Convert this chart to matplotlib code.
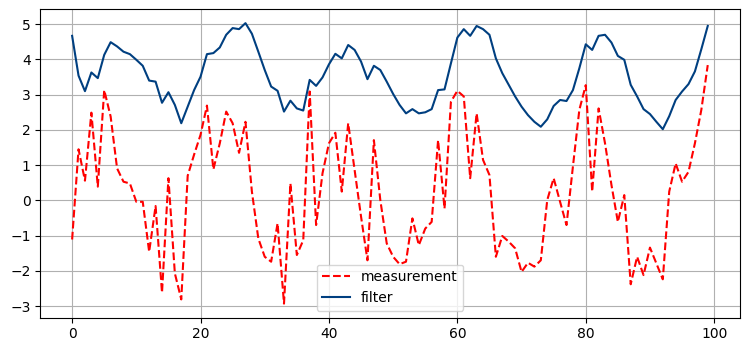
import matplotlib
matplotlib.use('Agg')
import matplotlib.pyplot as plt
import numpy as np

# values, index 0..99
measurement = [
    -1.11, 1.45, 0.56, 2.49, 0.39, 3.13, 2.38, 0.91, 0.53, 0.48,
    -0.04, -0.04, -1.46, -0.16, -2.62, 0.63, -2.07, -2.81, 0.70, 1.30,
    1.86, 2.69, 0.88, 1.62, 2.52, 2.19, 1.35, 2.23, 0.25, -1.08,
    -1.60, -1.74, -0.65, -2.93, 0.48, -1.55, -1.13, 3.09, -0.70, 0.77,
    1.62, 1.92, 0.25, 2.19, 0.86, -0.46, -1.70, 1.71, 0.01, -1.22,
    -1.60, -1.81, -1.74, -0.51, -1.27, -0.80, -0.61, 1.71, -0.23, 2.80,
    3.11, 2.95, 0.63, 2.47, 1.15, 0.72, -1.60, -1.01, -1.17, -1.36,
    -2.03, -1.77, -1.88, -1.70, 0.01, 0.63, -0.04, -0.70, 0.96, 2.57,
    3.27, 0.25, 2.61, 1.62, 0.44, -0.61, 0.15, -2.38, -1.60, -2.12,
    -1.34, -1.79, -2.24, 0.25, 1.05, 0.53, 0.81, 1.62, 2.57, 3.84,
]
filt = [
    4.67, 3.54, 3.10, 3.63, 3.47, 4.13, 4.49, 4.37, 4.22, 4.15,
    3.99, 3.82, 3.40, 3.37, 2.77, 3.07, 2.71, 2.19, 2.66, 3.13,
    3.51, 4.15, 4.18, 4.34, 4.70, 4.89, 4.86, 5.03, 4.73, 4.22,
    3.70, 3.23, 3.11, 2.52, 2.83, 2.61, 2.55, 3.42, 3.25, 3.49,
    3.86, 4.16, 4.03, 4.41, 4.27, 3.94, 3.44, 3.82, 3.70, 3.37,
    3.02, 2.71, 2.47, 2.59, 2.47, 2.50, 2.59, 3.13, 3.15, 3.89,
    4.62, 4.86, 4.67, 4.95, 4.86, 4.70, 4.03, 3.61, 3.28, 2.95,
    2.66, 2.42, 2.23, 2.09, 2.30, 2.68, 2.85, 2.82, 3.13, 3.75,
    4.43, 4.27, 4.67, 4.70, 4.48, 4.10, 3.99, 3.28, 2.95, 2.59,
    2.45, 2.23, 2.02, 2.39, 2.85, 3.09, 3.30, 3.66, 4.29, 4.95,
]
t = np.arange(len(measurement))

fig = plt.figure(figsize=(7.47, 3.51), dpi=100)
ax = fig.add_axes([0.054, 0.095, 0.936, 0.879])
ax.plot(t, measurement, 'r--', label='measurement')
ax.plot(t, filt, color='#003f80', label='filter')
ax.grid(True)
ax.legend(loc='lower center')
fig.savefig('out.png')
